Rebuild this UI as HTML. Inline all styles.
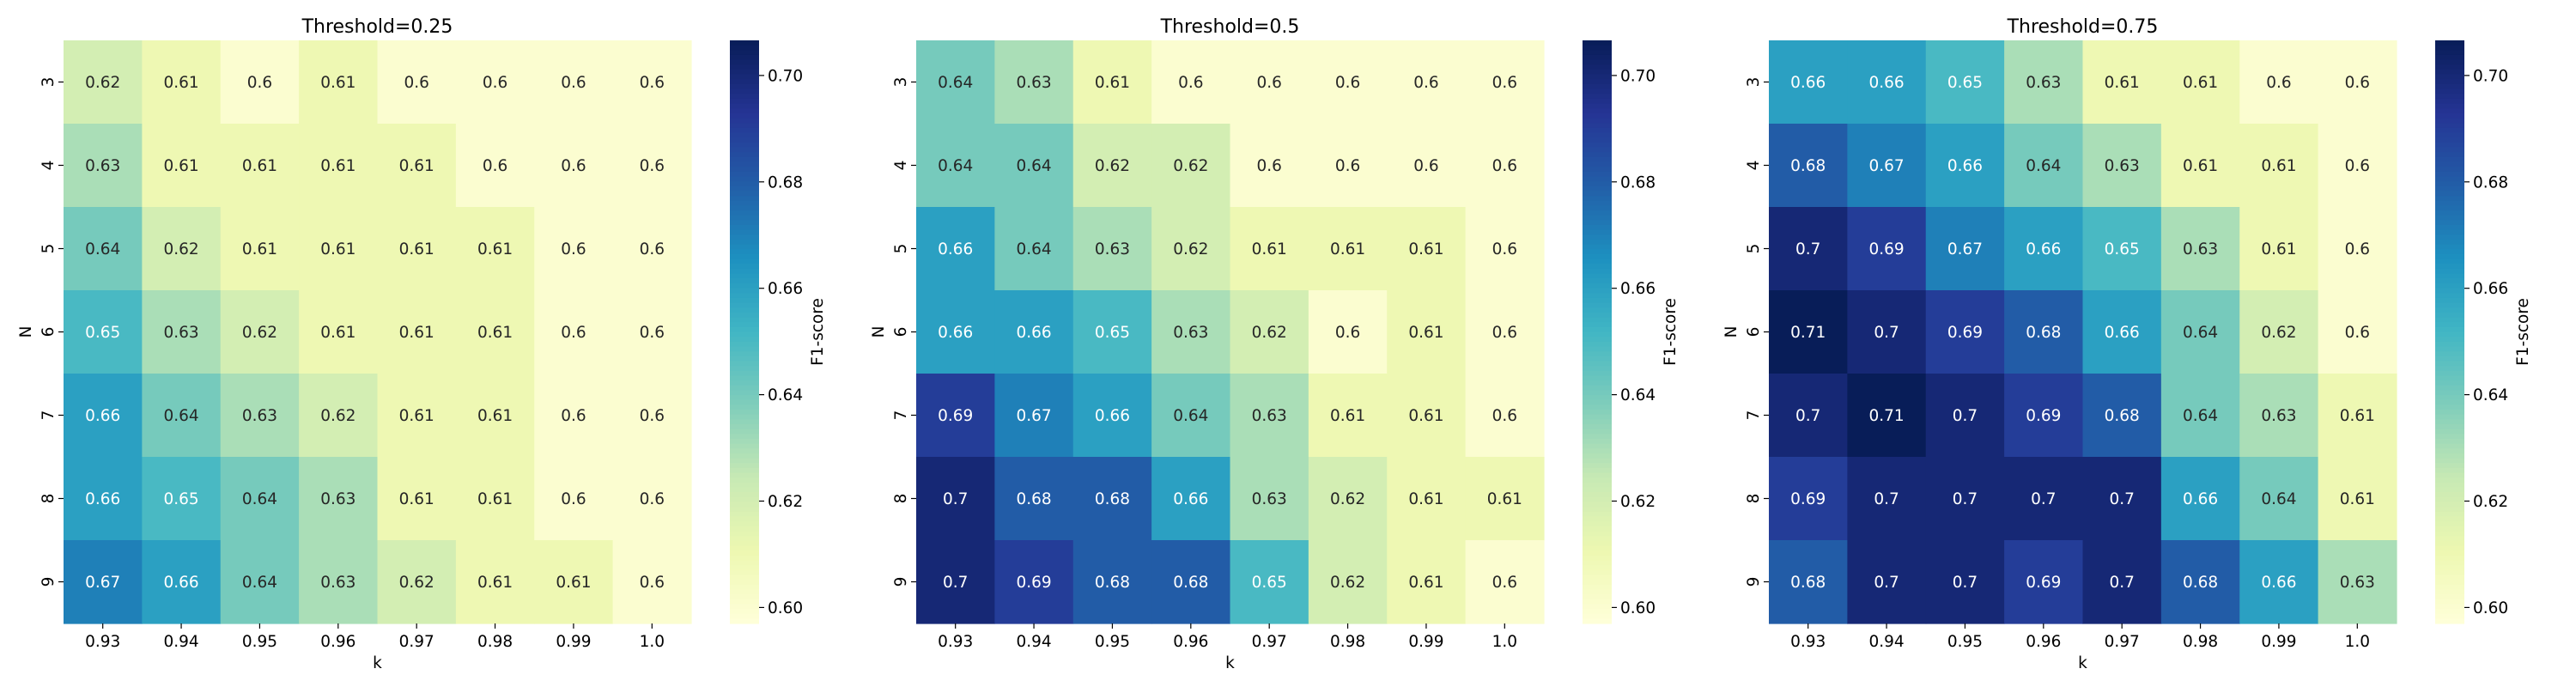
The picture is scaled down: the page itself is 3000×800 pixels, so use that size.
<!DOCTYPE html>
<html><head><meta charset="utf-8"><style>
html,body{margin:0;padding:0;background:#fff;}
svg{display:block;font-family:"DejaVu Sans","Liberation Sans",sans-serif;}
</style></head><body>
<svg id="fig" width="3000" height="800" viewBox="0 0 3000 800" xmlns="http://www.w3.org/2000/svg"></svg>
<script>
const kLabels = ["0.93","0.94","0.95","0.96","0.97","0.98","0.99","1.0"];
const nLabels = ["3","4","5","6","7","8","9"];
const titles = ["Threshold=0.25","Threshold=0.5","Threshold=0.75"];
const cbTicks = [0.60,0.62,0.64,0.66,0.68,0.70];
const vMin = 0.597, vMax = 0.7066;
const f1T025 = [
 [.62,.61,.60,.61,.60,.60,.60,.60],
 [.63,.61,.61,.61,.61,.60,.60,.60],
 [.64,.62,.61,.61,.61,.61,.60,.60],
 [.65,.63,.62,.61,.61,.61,.60,.60],
 [.66,.64,.63,.62,.61,.61,.60,.60],
 [.66,.65,.64,.63,.61,.61,.60,.60],
 [.67,.66,.64,.63,.62,.61,.61,.60]];
const f1T050 = [
 [.64,.63,.61,.60,.60,.60,.60,.60],
 [.64,.64,.62,.62,.60,.60,.60,.60],
 [.66,.64,.63,.62,.61,.61,.61,.60],
 [.66,.66,.65,.63,.62,.60,.61,.60],
 [.69,.67,.66,.64,.63,.61,.61,.60],
 [.70,.68,.68,.66,.63,.62,.61,.61],
 [.70,.69,.68,.68,.65,.62,.61,.60]];
const f1T075 = [
 [.66,.66,.65,.63,.61,.61,.60,.60],
 [.68,.67,.66,.64,.63,.61,.61,.60],
 [.70,.69,.67,.66,.65,.63,.61,.60],
 [.71,.70,.69,.68,.66,.64,.62,.60],
 [.70,.71,.70,.69,.68,.64,.63,.61],
 [.69,.70,.70,.70,.70,.66,.64,.61],
 [.68,.70,.70,.69,.70,.68,.66,.63]];
const panels = [f1T025, f1T050, f1T075];

const stops = ["#ffffd9","#edf8b1","#c7e9b4","#7fcdbb","#41b6c4","#1d91c0","#225ea8","#253494","#081d58"];
function hex(h){return [1,3,5].map(i=>parseInt(h.substr(i,2),16));}
const sc = stops.map(hex);
function cmapRGB(t){t=Math.max(0,Math.min(1,t));const p=t*(sc.length-1);const i=Math.min(sc.length-2,Math.floor(p));const f=p-i;
 return sc[i].map((c,j)=>Math.round(c+(sc[i+1][j]-c)*f));}
function rgbStr(c){return `rgb(${c[0]},${c[1]},${c[2]})`;}
function lum(c){const l=c.map(v=>{v/=255;return v<=0.03928?v/12.92:Math.pow((v+0.055)/1.055,2.4);});return 0.2126*l[0]+0.7152*l[1]+0.0722*l[2];}
function fmt(v){let s=(Math.round(v*100)/100).toString();if(!s.includes('.'))s+='.0';return s;}

const NS="http://www.w3.org/2000/svg";
const svg=document.getElementById('fig');
function el(tag,attrs,parent){const e=document.createElementNS(NS,tag);for(const k in attrs)e.setAttribute(k,attrs[k]);(parent||svg).appendChild(e);return e;}

const topY=47, bottomY=726, hmW=731;
const cellH=(bottomY-topY)/nLabels.length, cellW=hmW/kLabels.length;
const FS=18.5;
panels.forEach((data,p)=>{
 const x0=74+p*993;
 const g=el('g',{});
 
 
 const xs=i=>x0+i*cellW, ys=j=>topY+j*cellH;
 data.forEach((row,j)=>row.forEach((v,i)=>{
  const c=cmapRGB((v-vMin)/(vMax-vMin));
  const r=el('rect',{x:xs(i),y:ys(j),width:cellW+0.6,height:cellH+0.6,fill:rgbStr(c)},g);
  
  
  const t=el('text',{x:xs(i)+cellW/2,y:ys(j)+cellH/2+6.5,'text-anchor':'middle','font-size':FS,fill:lum(c)<0.408?'#fff':'#262626'},g);
  t.textContent=fmt(v);
  
  
 }));
 kLabels.forEach((k,i)=>{
  const cx=xs(i)+cellW/2;
  el('line',{x1:cx,x2:cx,y1:bottomY,y2:bottomY+6,stroke:'#000','stroke-width':1.2},g);
  const t=el('text',{x:cx,y:bottomY+27,'text-anchor':'middle','font-size':FS,fill:'#000'},g);
  t.textContent=k;
  
  
 });
 nLabels.forEach((n,j)=>{
  const cy=ys(j)+cellH/2;
  el('line',{x1:x0-6,x2:x0,y1:cy,y2:cy,stroke:'#000','stroke-width':1.2},g);
  const t=el('text',{x:0,y:0,transform:`translate(${x0-12},${cy}) rotate(-90)`,'text-anchor':'middle','font-size':FS,fill:'#000'},g);
  t.textContent=n;
  
  
 });
 const xt=el('text',{x:x0+hmW/2,y:778,'text-anchor':'middle','font-size':FS,fill:'#000'},g);
 xt.textContent='k';
 
 
 const yt=el('text',{x:0,y:0,transform:`translate(${x0-38},${(topY+bottomY)/2}) rotate(-90)`,'text-anchor':'middle','font-size':FS,fill:'#000'},g);
 yt.textContent='N';
 
 
 const tt=el('text',{x:x0+hmW/2,y:38,'text-anchor':'middle','font-size':22,fill:'#000'},g);
 tt.textContent=titles[p];
 
 
 const cbx=x0+776, cbw=34;
 const cb=el('g',{},g);
 
 
 const steps=120;
 for(let s=0;s<steps;s++){
  const y1=topY+(bottomY-topY)*s/steps;
  const v=vMax-(vMax-vMin)*(s+0.5)/steps;
  el('rect',{x:cbx,y:y1,width:cbw,height:(bottomY-topY)/steps+0.6,fill:rgbStr(cmapRGB((v-vMin)/(vMax-vMin)))},cb);
 }
 const cy=v=>bottomY-(v-vMin)/(vMax-vMin)*(bottomY-topY);
 cbTicks.forEach(v=>{
  el('line',{x1:cbx+cbw,x2:cbx+cbw+6,y1:cy(v),y2:cy(v),stroke:'#000','stroke-width':1.2},cb);
  const t=el('text',{x:cbx+cbw+10,y:cy(v)+6.5,'font-size':FS,fill:'#000'},cb);
  t.textContent=v.toFixed(2);
  
  
 });
 const cl=el('text',{x:0,y:0,transform:`translate(${cbx+108},${(topY+bottomY)/2}) rotate(-90)`,'text-anchor':'middle','font-size':FS,fill:'#000'},cb);
 cl.textContent='F1-score';
 
 
});
</script>
</body></html>
